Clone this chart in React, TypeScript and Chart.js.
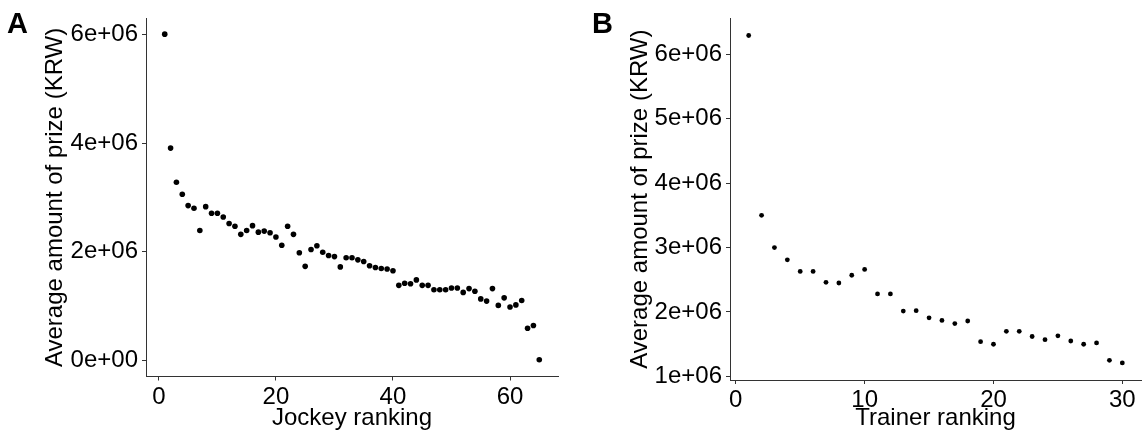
import React, { useEffect, useRef } from "react";
import { Chart, registerables } from "chart.js";

Chart.register(...registerables);

const FONT = '"Liberation Sans", Arial, Helvetica, sans-serif';

// Panel A: jockeys
const jockeyRanking = [
  1, 2, 3, 4, 5, 6, 7, 8, 9, 10, 11, 12, 13, 14, 15, 16, 17, 18, 19, 20,
  21, 22, 23, 24, 25, 26, 27, 28, 29, 30, 31, 32, 33, 34, 35, 36, 37, 38, 39, 40,
  41, 42, 43, 44, 45, 46, 47, 48, 49, 50, 51, 52, 53, 54, 55, 56, 57, 58, 59, 60,
  61, 62, 63, 64, 65,
];
const jockeyPrize = [
  6010000, 3910000, 3280000, 3060000, 2850000, 2800000, 2390000, 2830000, 2710000, 2710000,
  2640000, 2520000, 2470000, 2320000, 2390000, 2480000, 2360000, 2380000, 2350000, 2270000,
  2120000, 2470000, 2320000, 1980000, 1730000, 2040000, 2110000, 1990000, 1930000, 1910000,
  1720000, 1890000, 1890000, 1850000, 1820000, 1740000, 1710000, 1690000, 1680000, 1650000,
  1380000, 1420000, 1410000, 1480000, 1380000, 1380000, 1300000, 1300000, 1300000, 1330000,
  1330000, 1250000, 1320000, 1270000, 1130000, 1090000, 1320000, 1010000, 1150000, 980000,
  1020000, 1100000, 590000, 640000, 10000,
];
const jockeyXTicks = [0, 20, 40, 60];
const jockeyYTicks = [0, 2000000, 4000000, 6000000];

// Panel B: trainers
const trainerRanking = [
  1, 2, 3, 4, 5, 6, 7, 8, 9, 10, 11, 12, 13, 14, 15, 16, 17, 18, 19, 20,
  21, 22, 23, 24, 25, 26, 27, 28, 29, 30,
];
const trainerPrize = [
  6290000, 3500000, 3000000, 2810000, 2630000, 2630000, 2460000, 2450000, 2570000, 2660000,
  2280000, 2280000, 2015000, 2020000, 1910000, 1870000, 1820000, 1860000, 1540000, 1500000,
  1700000, 1700000, 1620000, 1570000, 1630000, 1550000, 1500000, 1520000, 1250000, 1210000,
];
const trainerXTicks = [0, 10, 20, 30];
const trainerYTicks = [1000000, 2000000, 3000000, 4000000, 5000000, 6000000];

function sci(v: number): string {
  if (v === 0) return "0e+00";
  const exp = Math.floor(Math.log10(Math.abs(v)));
  const m = Math.round((v / Math.pow(10, exp)) * 100) / 100;
  return `${m}e+${String(exp).padStart(2, "0")}`;
}

type PanelProps = {
  left: number;
  width: number;
  height: number;
  xs: number[];
  ys: number[];
  xTicks: number[];
  yTicks: number[];
  xMin: number;
  xMax: number;
  yMin: number;
  yMax: number;
  xTitle: string;
  yTitle: string;
  yAxisWidth: number;
  xAxisHeight: number;
  padTop: number;
  padRight: number;
  yTitlePad: number;
  xTitlePad: number;
  radius: number;
};

function Panel(p: PanelProps) {
  const ref = useRef<HTMLCanvasElement | null>(null);
  useEffect(() => {
    if (!ref.current) return;
    const axisColor = "#333333";
    const chart = new Chart(ref.current, {
      type: "scatter",
      data: {
        datasets: [
          {
            data: p.xs.map((x, i) => ({ x, y: p.ys[i] })),
            backgroundColor: "#000000",
            borderColor: "#000000",
            pointRadius: p.radius,
            pointBorderWidth: 0,
            showLine: false,
          },
        ],
      },
      options: {
        animation: false,
        responsive: false,
        devicePixelRatio: 1,
        layout: { padding: { left: 0, top: p.padTop, right: p.padRight, bottom: 0 } },
        plugins: { legend: { display: false }, tooltip: { enabled: false } },
        scales: {
          x: {
            type: "linear",
            min: p.xMin,
            max: p.xMax,
            afterBuildTicks: (scale: any) => {
              scale.ticks = p.xTicks.map((v) => ({ value: v }));
            },
            afterFit: (scale: any) => {
              scale.height = p.xAxisHeight;
            },
            ticks: {
              autoSkip: false,
              maxRotation: 0,
              padding: 2,
              color: "#000000",
              font: { family: FONT, size: 24 },
              callback: (v: any) => String(v),
            },
            grid: {
              display: true,
              drawOnChartArea: false,
              drawTicks: true,
              tickLength: 4,
              color: axisColor,
              lineWidth: 1,
            },
            border: { display: true, color: axisColor, width: 1 },
            title: {
              display: true,
              text: p.xTitle,
              color: "#000000",
              font: { family: FONT, size: 24 },
              padding: { top: 0, bottom: p.xTitlePad },
            },
          },
          y: {
            type: "linear",
            min: p.yMin,
            max: p.yMax,
            afterBuildTicks: (scale: any) => {
              scale.ticks = p.yTicks.map((v) => ({ value: v }));
            },
            afterFit: (scale: any) => {
              scale.width = p.yAxisWidth;
            },
            ticks: {
              autoSkip: false,
              padding: 4,
              color: "#000000",
              font: { family: FONT, size: 24 },
              callback: (v: any) => sci(Number(v)),
            },
            grid: {
              display: true,
              drawOnChartArea: false,
              drawTicks: true,
              tickLength: 4,
              color: axisColor,
              lineWidth: 1,
            },
            border: { display: true, color: axisColor, width: 1 },
            title: {
              display: true,
              text: p.yTitle,
              color: "#000000",
              font: { family: FONT, size: 24 },
              padding: { top: p.yTitlePad, bottom: 0 },
            },
          },
        },
      },
    } as any);
    return () => chart.destroy();
  }, []);
  return (
    <canvas
      ref={ref}
      width={p.width}
      height={p.height}
      style={{ position: "absolute", left: p.left, top: 0, width: p.width, height: p.height }}
    />
  );
}

const letterStyle: React.CSSProperties = {
  position: "absolute",
  top: 9,
  fontFamily: FONT,
  fontWeight: "bold",
  fontSize: 29,
  lineHeight: "29px",
  color: "#000",
};

export default function App() {
  return (
    <div
      style={{
        position: "absolute",
        left: 0,
        top: 0,
        width: 1145,
        height: 438,
        background: "#ffffff",
        overflow: "hidden",
      }}
    >
      <Panel
        left={0}
        width={570}
        height={438}
        xs={jockeyRanking}
        ys={jockeyPrize}
        xTicks={jockeyXTicks}
        yTicks={jockeyYTicks}
        xMin={-2.2}
        xMax={68.2}
        yMin={-300000}
        yMax={6300000}
        xTitle="Jockey ranking"
        yTitle="Average amount of prize (KRW)"
        yAxisWidth={146}
        xAxisHeight={61.5}
        padTop={13.5}
        padRight={12}
        yTitlePad={41}
        xTitlePad={5}
        radius={2.8}
      />
      <Panel
        left={580}
        width={565}
        height={438}
        xs={trainerRanking}
        ys={trainerPrize}
        xTicks={trainerXTicks}
        yTicks={trainerYTicks}
        xMin={-0.45}
        xMax={31.45}
        yMin={945000}
        yMax={6555000}
        xTitle="Trainer ranking"
        yTitle="Average amount of prize (KRW)"
        yAxisWidth={150}
        xAxisHeight={58}
        padTop={13}
        padRight={0}
        yTitlePad={46}
        xTitlePad={5}
        radius={2.4}
      />
      <div style={{ ...letterStyle, left: 7 }}>A</div>
      <div style={{ ...letterStyle, left: 592 }}>B</div>
    </div>
  );
}
